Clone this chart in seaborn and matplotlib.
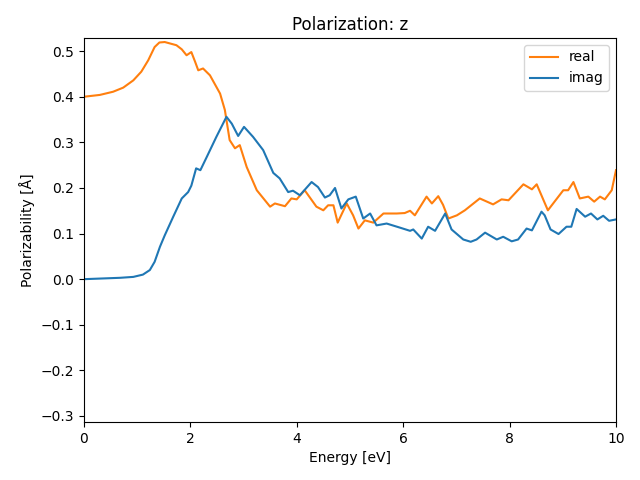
import matplotlib
matplotlib.use("Agg")
import matplotlib.pyplot as plt
import seaborn as sns
import pandas as pd

# valores
energia_real = [0.0, 0.30, 0.55, 0.74, 0.93, 1.08, 1.21, 1.33, 1.42, 1.52, 1.74, 1.84, 1.93, 2.02,
                2.09, 2.15, 2.24, 2.37, 2.56, 2.65,
                2.74, 2.84, 2.93, 3.06, 3.25, 3.50, 3.59, 3.78, 3.90, 4.00, 4.15, 4.37, 4.50,
                4.59, 4.69, 4.77, 4.94, 5.06, 5.16, 5.28, 5.44, 5.63, 5.88, 6.03, 6.13, 6.22,
                6.44, 6.54, 6.66, 6.75, 6.85, 7.01, 7.16, 7.44, 7.69, 7.85, 7.98, 8.26, 8.42,
                8.51, 8.72, 9.01, 9.10, 9.20, 9.32, 9.48, 9.59, 9.70, 9.79, 9.92, 10.0]
real = [0.400, 0.404, 0.411, 0.420, 0.436, 0.455, 0.480, 0.509, 0.519, 0.520, 0.513, 0.504, 0.491, 0.498,
        0.477, 0.458, 0.462, 0.447, 0.407, 0.371,
        0.305, 0.287, 0.294, 0.246, 0.195, 0.159, 0.166, 0.160, 0.177, 0.175, 0.195, 0.159, 0.151,
        0.162, 0.162, 0.124, 0.166, 0.140, 0.111, 0.129, 0.124, 0.144, 0.144, 0.145, 0.150, 0.140,
        0.181, 0.166, 0.182, 0.163, 0.133, 0.140, 0.151, 0.177, 0.164, 0.175, 0.173, 0.208, 0.197,
        0.208, 0.151, 0.195, 0.195, 0.213, 0.177, 0.181, 0.170, 0.181, 0.175, 0.195, 0.239]

energia_imag = [0.0, 0.68, 0.93, 1.11, 1.24, 1.33, 1.43, 1.52, 1.68, 1.84, 1.96, 2.02, 2.11, 2.19,
                2.31, 2.49, 2.68, 2.78,
                2.90, 3.01, 3.18, 3.37, 3.56, 3.68, 3.84, 3.93, 4.06, 4.28, 4.40, 4.53, 4.62,
                4.72, 4.84, 4.97, 5.11, 5.25, 5.38, 5.50, 5.69, 5.94, 6.13, 6.19, 6.35, 6.47,
                6.60, 6.79, 6.91, 7.13, 7.27, 7.38, 7.54, 7.76, 7.88, 8.04, 8.16, 8.32, 8.42,
                8.60, 8.66, 8.77, 8.92, 9.07, 9.16, 9.26, 9.42, 9.53, 9.65, 9.76, 9.87, 10.0]
imag = [0.000, 0.003, 0.005, 0.010, 0.020, 0.038, 0.071, 0.096, 0.137, 0.177, 0.191, 0.205, 0.243, 0.239,
        0.268, 0.312, 0.356, 0.341,
        0.314, 0.334, 0.312, 0.283, 0.233, 0.221, 0.191, 0.194, 0.184, 0.213, 0.202, 0.179, 0.184,
        0.200, 0.155, 0.175, 0.181, 0.133, 0.144, 0.118, 0.122, 0.113, 0.106, 0.109, 0.089, 0.115,
        0.106, 0.144, 0.109, 0.087, 0.082, 0.087, 0.102, 0.087, 0.093, 0.083, 0.087, 0.111, 0.107,
        0.148, 0.140, 0.109, 0.099, 0.115, 0.115, 0.154, 0.137, 0.144, 0.131, 0.139, 0.128, 0.131]

df_real = pd.DataFrame({"Energy": energia_real, "Pol": real})
df_imag = pd.DataFrame({"Energy": energia_imag, "Pol": imag})

fig, ax = plt.subplots(figsize=(6.4, 4.8), dpi=100)

sns.lineplot(data=df_real, x="Energy", y="Pol", color="#ff7f0e", label="real", ax=ax)
sns.lineplot(data=df_imag, x="Energy", y="Pol", color="#1f77b4", label="imag", ax=ax)

ax.set_xlim(0, 10)
ax.set_ylim(-0.313, 0.529)
ax.set_title("Polarization: z")
ax.set_xlabel("Energy [eV]")
ax.set_ylabel("Polarizability [Å]")
ax.legend(loc="upper right")

fig.subplots_adjust(left=0.131, right=0.9625, top=0.921, bottom=0.121)
fig.savefig("out.png", dpi=100)
